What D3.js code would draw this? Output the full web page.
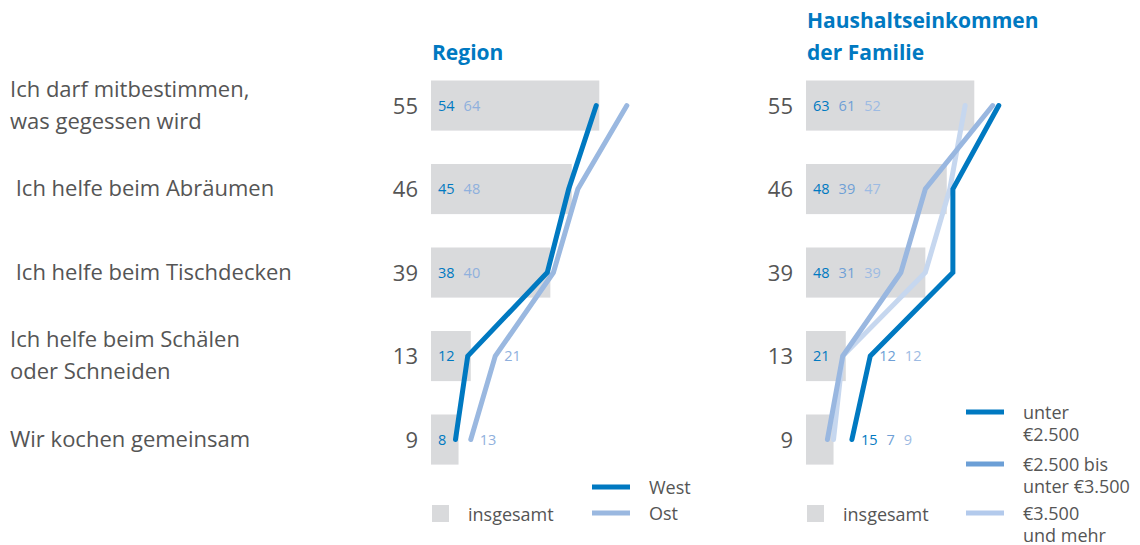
<!DOCTYPE html>
<html>
<head>
<meta charset="utf-8">
<script src="https://cdn.jsdelivr.net/npm/d3@7"></script>
<style>
  body { margin: 0; background: #fff; }
  svg { display: block; font-family: "Open Sans", sans-serif; }
</style>
</head>
<body>
<svg id="chart" width="1140" height="545"></svg>
<script>
// Data
const categories = [
    ["Ich darf mitbestimmen,", "was gegessen wird"],
    [" Ich helfe beim Abräumen"],
    [" Ich helfe beim Tischdecken"],
    ["Ich helfe beim Schälen", "oder Schneiden"],
    ["Wir kochen gemeinsam"]
];
const total = [55, 46, 39, 13, 9];
const regionWest = [54, 45, 38, 12, 8];
const regionOst = [64, 48, 40, 21, 13];
const incomeLow = [63, 48, 48, 21, 15];
const incomeMid = [61, 39, 31, 12, 7];
const incomeHigh = [52, 47, 39, 12, 9];

const regionTitle = ["Region"];
const incomeTitle = ["Haushaltseinkommen", "der Familie"];
const regionLegend = [["West"], ["Ost"]];
const incomeLegend = [["unter", "€2.500"], ["€2.500 bis", "unter €3.500"], ["€3.500", "und mehr"]];

const BLUE = "#0079c1";
const GREY_TEXT = "#555";
const BAR_GREY = "#d9dadc";

const svg = d3.select("#chart");

const y = d3.scaleBand()
    .domain(d3.range(categories.length))
    .range([80.5, 464.6])
    .paddingInner(0.4)
    .paddingOuter(0);
const cy = (i) => y(i) + y.bandwidth() / 2;

// category labels
categories.forEach((lines, i) => {
    const t = svg.append("text")
        .attr("fill", GREY_TEXT)
        .attr("font-size", 22)
        .style("white-space", "pre");
    const first = cy(i) + 7 - (lines.length - 1) * 16;
    lines.forEach((l, j) => {
        t.append("tspan").attr("x", 10).attr("y", first + j * 32).text(l);
    });
});

function drawPanel(x0, titleLines, titleY, series, colors, labelColors, legend, legendCfg) {
    const x = d3.scaleLinear().domain([0, 100]).range([x0, x0 + 306]);
    const g = svg.append("g");

    // title
    titleLines.forEach((l, j) => {
        g.append("text")
            .attr("x", x0 + 1)
            .attr("y", titleY + j * 32)
            .attr("fill", BLUE)
            .attr("font-size", 21)
            .attr("font-weight", "bold")
            .text(l);
    });

    // total values to the left of bars
    g.selectAll(".tot").data(total).enter().append("text")
        .attr("x", x0 - 13)
        .attr("y", (d, i) => cy(i) + 8)
        .attr("text-anchor", "end")
        .attr("font-size", 22)
        .attr("fill", GREY_TEXT)
        .text((d) => d);

    // bars
    g.selectAll("rect").data(total).enter().append("rect")
        .attr("x", x(0))
        .attr("y", (d, i) => y(i))
        .attr("width", (d) => x(d) - x(0))
        .attr("height", y.bandwidth())
        .attr("fill", BAR_GREY);

    // lines, lightest first so the dark one sits on top
    const line = d3.line().x((d) => x(d)).y((d, i) => cy(i));
    series.map((s, k) => ({ s, k })).reverse().forEach(({ s, k }) => {
        g.append("path")
            .attr("d", line(s))
            .attr("fill", "none")
            .attr("stroke", colors[k])
            .attr("stroke-width", 5)
            .attr("stroke-linecap", "round")
            .attr("stroke-linejoin", "miter");
    });

    // value labels: inside bar while they clear the lines, otherwise after the lines
    total.forEach((tv, i) => {
        const lineXs = series.map((s) => x(s[i]));
        const minX = d3.min(lineXs), maxX = d3.max(lineXs);
        let cx = x0 + 7;
        let jumped = false;
        series.forEach((s, k) => {
            const t = g.append("text")
                .attr("y", cy(i) + 5)
                .attr("font-size", 14.5)
                .attr("fill", labelColors[k])
                .text(s[i]);
            const w = t.node().getComputedTextLength();
            if (!jumped && cx + w > minX - 3) {
                jumped = true;
                cx = maxX + 9;
            }
            t.attr("x", cx);
            cx += w + 9;
        });
    });

    // legend: insgesamt
    g.append("rect")
        .attr("x", x0 + 1).attr("y", 505)
        .attr("width", 17).attr("height", 17)
        .attr("fill", BAR_GREY);
    g.append("text")
        .attr("x", x0 + 37).attr("y", 521)
        .attr("font-size", 18)
        .attr("fill", GREY_TEXT)
        .text("insgesamt");

    legend.forEach((lines, k) => {
        const ly = legendCfg.y[k];
        g.append("line")
            .attr("x1", legendCfg.x).attr("x2", legendCfg.x + 38)
            .attr("y1", ly).attr("y2", ly)
            .attr("stroke", legendCfg.colors[k])
            .attr("stroke-width", 5);
        lines.forEach((l, j) => {
            g.append("text")
                .attr("x", legendCfg.x + 57)
                .attr("y", ly + 7 + j * 22)
                .attr("font-size", 18)
                .attr("fill", GREY_TEXT)
                .text(l);
        });
    });
}

drawPanel(431, regionTitle, 60,
    [regionWest, regionOst],
    [BLUE, "#9ab8e0"],
    [BLUE, "#8fb0dd"],
    regionLegend,
    { x: 592, y: [487, 513], colors: [BLUE, "#9ab8e0"] });

drawPanel(806, incomeTitle, 28,
    [incomeLow, incomeMid, incomeHigh],
    [BLUE, "#99b7e0", "#c6d7ef"],
    [BLUE, "#6f9fd6", "#9dbbe3"],
    incomeLegend,
    { x: 966, y: [412, 464, 513], colors: [BLUE, "#6c9fd6", "#b3caec"] });
</script>
</body>
</html>
